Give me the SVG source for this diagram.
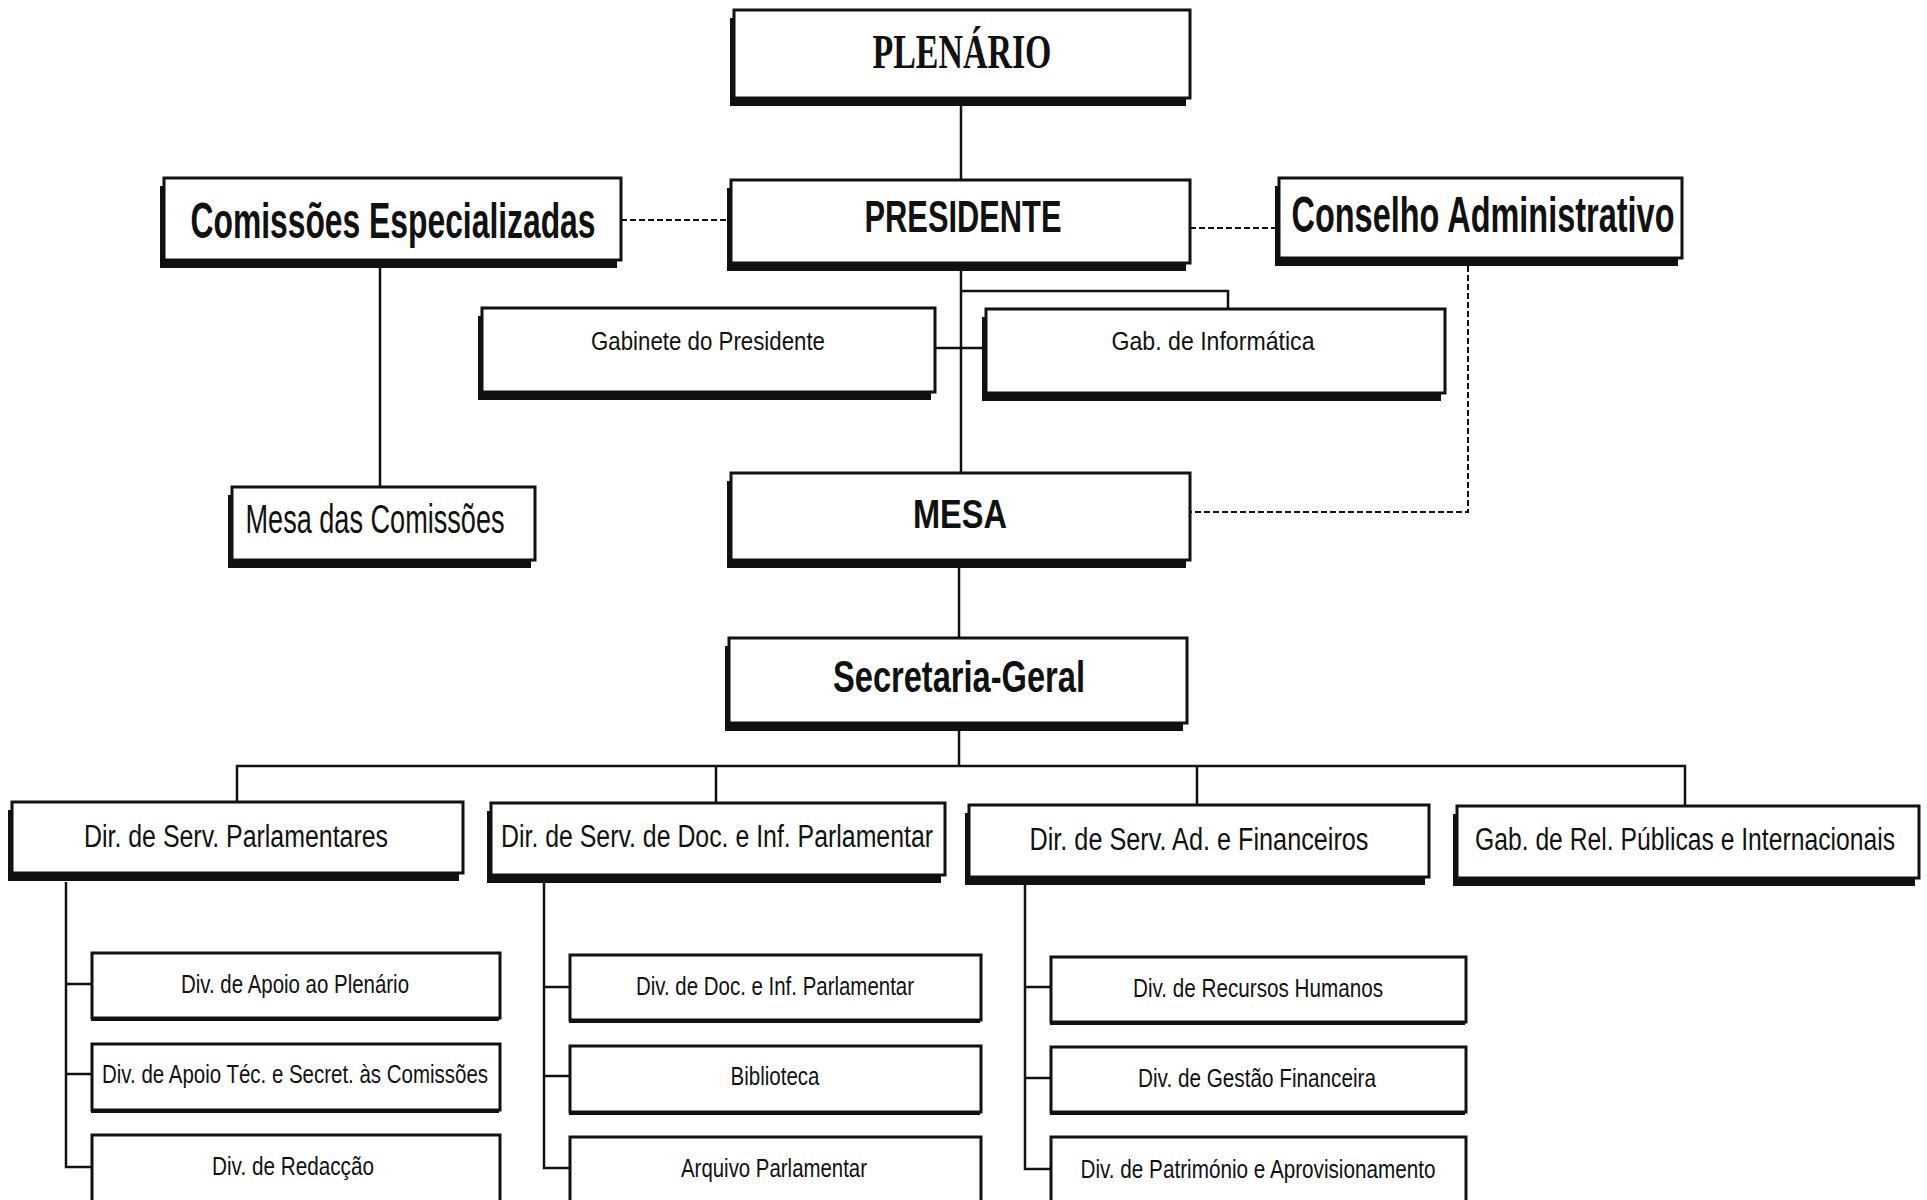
<svg xmlns="http://www.w3.org/2000/svg" width="1927" height="1200" viewBox="0 0 1927 1200">
<style>
.bx{fill:#fff;stroke:#111;stroke-width:3}
.sh{fill:#111}
.ln{fill:none;stroke:#111;stroke-width:2.5}
.ds{fill:none;stroke:#111;stroke-width:2;stroke-dasharray:6 3}
text{font-family:"Liberation Sans Narrow","Liberation Sans",Arial,sans-serif;fill:#111;text-anchor:middle}
.b{font-weight:bold}
.serif{font-family:"Liberation Serif","DejaVu Serif",serif;font-weight:bold}
</style>
<rect width="1927" height="1200" fill="#fff"/>
<g id="connectors">
<path class="ln" d="M961 106V180"/>
<path class="ln" d="M961 271V473"/>
<path class="ln" d="M961 291H1228V309"/>
<path class="ln" d="M935 348H986"/>
<path class="ds" d="M621 220H731"/>
<path class="ds" d="M1190 228H1279"/>
<path class="ds" d="M1468 266V512H1190"/>
<path class="ln" d="M380 268V487"/>
<path class="ln" d="M959 568V638"/>
<path class="ln" d="M959 730V766"/>
<path class="ln" d="M237 802V766H1685V806"/>
<path class="ln" d="M716 766V803"/>
<path class="ln" d="M1197 766V805"/>
<path class="ln" d="M66 882V1167H92M66 984H92M66 1074H92"/>
<path class="ln" d="M544 883V1168H570M544 987H570M544 1076H570"/>
<path class="ln" d="M1025 885V1169H1051M1025 987H1051M1025 1078H1051"/>
</g>
<g id="plenario"><rect class="sh" x="730" y="18" width="456" height="88"/><rect class="bx" x="734" y="10" width="456" height="88"/><text class="serif" x="962" y="68" font-size="48" textLength="179" lengthAdjust="spacingAndGlyphs">PLENÁRIO</text></g>
<g id="presidente"><rect class="sh" x="727" y="188" width="459" height="83"/><rect class="bx" x="731" y="180" width="459" height="83"/><text class="b" x="963" y="232" font-size="44" textLength="197" lengthAdjust="spacingAndGlyphs">PRESIDENTE</text></g>
<g id="comissoes"><rect class="sh" x="160" y="186" width="457" height="82"/><rect class="bx" x="164" y="178" width="457" height="82"/><text class="b" x="393" y="238" font-size="50" textLength="405" lengthAdjust="spacingAndGlyphs">Comissões Especializadas</text></g>
<g id="conselho"><rect class="sh" x="1275" y="186" width="403" height="80"/><rect class="bx" x="1279" y="178" width="403" height="80"/><text class="b" x="1483" y="232" font-size="50" textLength="383" lengthAdjust="spacingAndGlyphs">Conselho Administrativo</text></g>
<g id="gabinete"><rect class="sh" x="478" y="316" width="453" height="84"/><rect class="bx" x="482" y="308" width="453" height="84"/><text x="708" y="350" font-size="26" textLength="234" lengthAdjust="spacingAndGlyphs">Gabinete do Presidente</text></g>
<g id="gabinformatica"><rect class="sh" x="982" y="317" width="459" height="84"/><rect class="bx" x="986" y="309" width="459" height="84"/><text x="1213" y="350" font-size="26" textLength="203" lengthAdjust="spacingAndGlyphs">Gab. de Informática</text></g>
<g id="mesacomissoes"><rect class="sh" x="228" y="495" width="303" height="73"/><rect class="bx" x="232" y="487" width="303" height="73"/><text x="375" y="533" font-size="40" textLength="259" lengthAdjust="spacingAndGlyphs">Mesa das Comissões</text></g>
<g id="mesa"><rect class="sh" x="727" y="481" width="459" height="87"/><rect class="bx" x="731" y="473" width="459" height="87"/><text class="b" x="960" y="528" font-size="40" textLength="94" lengthAdjust="spacingAndGlyphs">MESA</text></g>
<g id="secretaria"><rect class="sh" x="725" y="646" width="458" height="85"/><rect class="bx" x="729" y="638" width="458" height="85"/><text class="b" x="959" y="692" font-size="44" textLength="252" lengthAdjust="spacingAndGlyphs">Secretaria-Geral</text></g>
<g id="dir1"><rect class="sh" x="8" y="810" width="451" height="71"/><rect class="bx" x="12" y="802" width="451" height="71"/><text x="236" y="847" font-size="31" textLength="304" lengthAdjust="spacingAndGlyphs">Dir. de Serv. Parlamentares</text></g>
<g id="dir2"><rect class="sh" x="487" y="811" width="454" height="72"/><rect class="bx" x="491" y="803" width="454" height="72"/><text x="717" y="847" font-size="31" textLength="432" lengthAdjust="spacingAndGlyphs">Dir. de Serv. de Doc. e Inf. Parlamentar</text></g>
<g id="dir3"><rect class="sh" x="965" y="813" width="460" height="72"/><rect class="bx" x="969" y="805" width="460" height="72"/><text x="1199" y="850" font-size="31" textLength="339" lengthAdjust="spacingAndGlyphs">Dir. de Serv. Ad. e Financeiros</text></g>
<g id="dir4"><rect class="sh" x="1453" y="814" width="462" height="72"/><rect class="bx" x="1457" y="806" width="462" height="72"/><text transform="translate(1685 850) scale(0.75 1)" x="0" y="0" font-size="31" textLength="560" lengthAdjust="spacingAndGlyphs">Gab. de Rel. Públicas e Internacionais</text></g>
<g id="div11"><rect class="sh" x="91" y="956" width="408" height="65"/><rect class="bx" x="92" y="953" width="408" height="65"/><text x="295" y="993" font-size="26" textLength="228" lengthAdjust="spacingAndGlyphs">Div. de Apoio ao Plenário</text></g>
<g id="div12"><rect class="sh" x="91" y="1047" width="408" height="66"/><rect class="bx" x="92" y="1044" width="408" height="66"/><text x="295" y="1083" font-size="26" textLength="386" lengthAdjust="spacingAndGlyphs">Div. de Apoio Téc. e Secret. às Comissões</text></g>
<g id="div13"><rect class="sh" x="91" y="1138" width="408" height="80"/><rect class="bx" x="92" y="1135" width="408" height="80"/><text x="293" y="1175" font-size="26" textLength="162" lengthAdjust="spacingAndGlyphs">Div. de Redacção</text></g>
<g id="div21"><rect class="sh" x="569" y="958" width="411" height="65"/><rect class="bx" x="570" y="955" width="411" height="65"/><text x="775" y="995" font-size="26" textLength="278" lengthAdjust="spacingAndGlyphs">Div. de Doc. e Inf. Parlamentar</text></g>
<g id="div22"><rect class="sh" x="569" y="1049" width="411" height="66"/><rect class="bx" x="570" y="1046" width="411" height="66"/><text x="775" y="1085" font-size="26" textLength="89" lengthAdjust="spacingAndGlyphs">Biblioteca</text></g>
<g id="div23"><rect class="sh" x="569" y="1140" width="411" height="80"/><rect class="bx" x="570" y="1137" width="411" height="80"/><text x="774" y="1177" font-size="26" textLength="186" lengthAdjust="spacingAndGlyphs">Arquivo Parlamentar</text></g>
<g id="div31"><rect class="sh" x="1050" y="960" width="415" height="65"/><rect class="bx" x="1051" y="957" width="415" height="65"/><text x="1258" y="997" font-size="26" textLength="250" lengthAdjust="spacingAndGlyphs">Div. de Recursos Humanos</text></g>
<g id="div32"><rect class="sh" x="1050" y="1050" width="415" height="65"/><rect class="bx" x="1051" y="1047" width="415" height="65"/><text x="1257" y="1087" font-size="26" textLength="238" lengthAdjust="spacingAndGlyphs">Div. de Gestão Financeira</text></g>
<g id="div33"><rect class="sh" x="1050" y="1140" width="415" height="80"/><rect class="bx" x="1051" y="1137" width="415" height="80"/><text x="1258" y="1178" font-size="26" textLength="355" lengthAdjust="spacingAndGlyphs">Div. de Património e Aprovisionamento</text></g>
</svg>
